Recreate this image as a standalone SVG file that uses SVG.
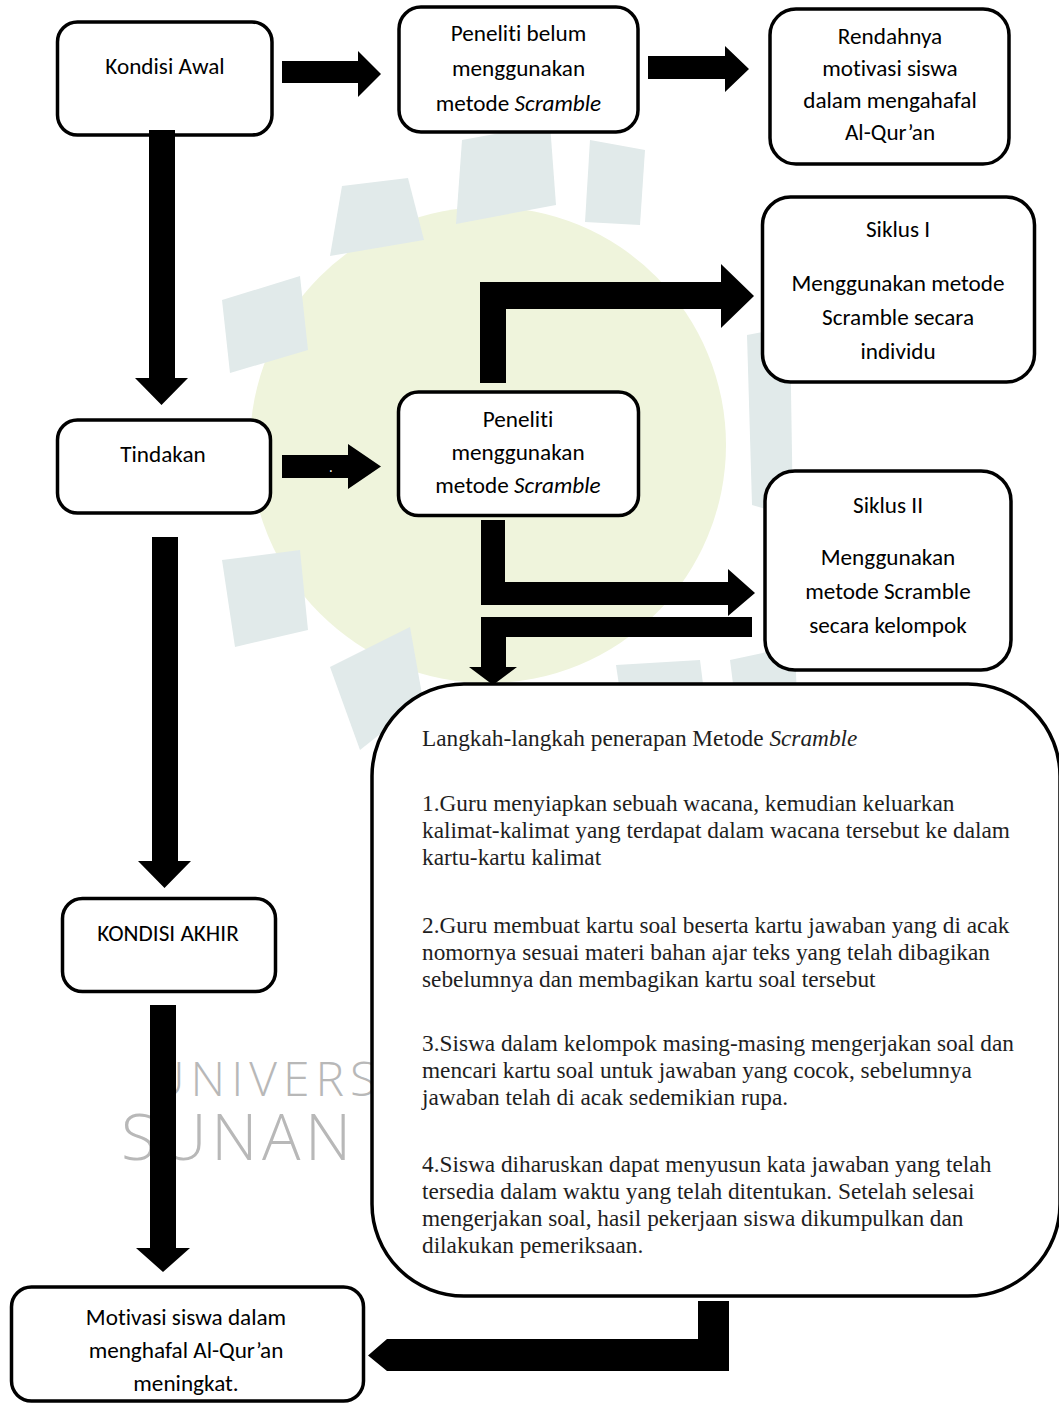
<svg xmlns="http://www.w3.org/2000/svg" width="1059" height="1408" viewBox="0 0 1059 1408">
<style>
.box{fill:#fff;stroke:#000;stroke-width:3.5}
.t{font-family:Carlito,'Open Sans',Lato,sans-serif;font-size:23.2px;fill:#000;text-anchor:middle;font-variant-ligatures:none;font-feature-settings:"liga" 0}
.s{font-family:'Liberation Serif','Times New Roman',serif;font-size:23.3px;fill:#1e1e1e}
.arr{fill:#000}
.wm{font-family:'Open Sans',sans-serif;font-weight:300;fill:#b8b8b8}
.lg{fill:#eff4dc}
.tl{fill:#e1eaea}
</style>
<rect width="1059" height="1408" fill="#fff"/>
<g id="watermark">
<circle class="lg" cx="488" cy="445" r="238"/>
<polygon class="tl" points="330,256 342,186 408,178 424,240"/>
<polygon class="tl" points="456,224 462,140 550,124 556,205"/>
<polygon class="tl" points="585,222 590,140 645,150 640,225"/>
<polygon class="tl" points="222,300 300,276 308,350 230,373"/>
<polygon class="tl" points="222,560 300,550 308,630 235,647"/>
<polygon class="tl" points="330,667 410,627 423,700 360,750"/>
<polygon class="tl" points="747,335 790,327 793,517 752,505"/>
<polygon class="tl" points="730,660 795,646 797,700 735,700"/>
<polygon class="tl" points="616,665 700,660 704,692 620,692"/>
<text class="wm" x="150" y="1096" font-size="48" letter-spacing="6">UNIVERS</text>
<text class="wm" x="121" y="1160" font-size="64" letter-spacing="4.6">SUNAN</text>
</g>
<g id="n-kondisi-awal"><rect class="box" x="57.5" y="22" width="214.5" height="113" rx="20"/><text class="t" x="165" y="74">Kondisi Awal</text></g>
<g id="n-peneliti-belum"><rect class="box" x="399" y="7" width="239" height="125" rx="22"/><text class="t" x="518.5" y="41">Peneliti belum</text><text class="t" x="518.5" y="76">menggunakan</text><text class="t" x="518.5" y="111">metode <tspan font-style="italic">Scramble</tspan></text></g>
<g id="n-rendahnya"><rect class="box" x="770" y="9" width="239" height="155" rx="26"/><text class="t" x="890" y="44">Rendahnya</text><text class="t" x="890" y="76">motivasi siswa</text><text class="t" x="890" y="108">dalam mengahafal</text><text class="t" x="890" y="140">Al-Qur’an</text></g>
<g id="n-tindakan"><rect class="box" x="57.5" y="420" width="213" height="93" rx="20"/><text class="t" x="163" y="462">Tindakan</text></g>
<g id="n-peneliti"><rect class="box" x="398.5" y="392" width="240" height="123.5" rx="20"/><text class="t" x="518" y="427">Peneliti</text><text class="t" x="518" y="460">menggunakan</text><text class="t" x="518" y="493">metode <tspan font-style="italic">Scramble</tspan></text></g>
<g id="n-siklus1"><rect class="box" x="762.5" y="197" width="272" height="185" rx="28"/><text class="t" x="898" y="237">Siklus I</text><text class="t" x="898" y="291">Menggunakan metode</text><text class="t" x="898" y="325">Scramble secara</text><text class="t" x="898" y="359">individu</text></g>
<g id="n-siklus2"><rect class="box" x="765" y="471" width="246" height="199" rx="30"/><text class="t" x="888" y="513">Siklus II</text><text class="t" x="888" y="565">Menggunakan</text><text class="t" x="888" y="599">metode Scramble</text><text class="t" x="888" y="633">secara kelompok</text></g>
<g id="n-kondisi-akhir"><rect class="box" x="62.5" y="898.5" width="213" height="93" rx="20"/><text class="t" x="168" y="941">KONDISI AKHIR</text></g>
<g id="n-langkah"><rect class="box" x="372" y="684" width="688" height="612" rx="92"/>
<text class="s" x="422" y="746">Langkah-langkah penerapan Metode <tspan font-style="italic">Scramble</tspan></text>
<text class="s" x="422" y="811">1.Guru menyiapkan sebuah wacana, kemudian keluarkan</text>
<text class="s" x="422" y="838">kalimat-kalimat yang terdapat dalam wacana tersebut ke dalam</text>
<text class="s" x="422" y="865">kartu-kartu kalimat</text>
<text class="s" x="422" y="933">2.Guru membuat kartu soal beserta kartu jawaban yang di acak</text>
<text class="s" x="422" y="960">nomornya sesuai materi bahan ajar teks yang telah dibagikan</text>
<text class="s" x="422" y="987">sebelumnya dan membagikan kartu soal tersebut</text>
<text class="s" x="422" y="1051">3.Siswa dalam kelompok masing-masing mengerjakan soal dan</text>
<text class="s" x="422" y="1078">mencari kartu soal untuk jawaban yang cocok, sebelumnya</text>
<text class="s" x="422" y="1105">jawaban telah di acak sedemikian rupa.</text>
<text class="s" x="422" y="1172">4.Siswa diharuskan dapat menyusun kata jawaban yang telah</text>
<text class="s" x="422" y="1199">tersedia dalam waktu yang telah ditentukan. Setelah selesai</text>
<text class="s" x="422" y="1226">mengerjakan soal, hasil pekerjaan siswa dikumpulkan dan</text>
<text class="s" x="422" y="1253">dilakukan pemeriksaan.</text>
</g>
<g id="n-motivasi"><rect class="box" x="11.5" y="1287" width="352" height="114" rx="20"/><text class="t" x="186" y="1325">Motivasi siswa dalam</text><text class="t" x="186" y="1358">menghafal Al-Qur’an</text><text class="t" x="186" y="1391">meningkat.</text></g>
<g id="connectors">
<polygon class="arr" points="282,61 358,61 358,51 381,74 358,97 358,83 282,83"/>
<polygon class="arr" points="648,56 725,56 725,46 749,69 725,92 725,79 648,79"/>
<polygon class="arr" points="149,130 175,130 175,378 188,378 161.5,405 135,378 149,378"/>
<polygon class="arr" points="282,455 348,455 348,444 381,466.5 348,489 348,478 282,478"/>
<text x="329" y="472" font-family="'Open Sans',sans-serif" font-size="14" fill="#fff">.</text>
<polygon class="arr" points="480,383 480,282 721,282 721,264 754,296 721,328 721,309 506,309 506,383"/>
<polygon class="arr" points="481,520 505,520 505,582 728,582 728,569 755,593 728,616 728,605 481,605"/>
<polygon class="arr" points="752,617 752,637 506,637 506,667 517,667 493,685 469,667 481,667 481,617"/>
<polygon class="arr" points="152,537 178,537 178,861 191,861 164.5,888 138,861 152,861"/>
<polygon class="arr" points="150,1005 176,1005 176,1248 190,1248 163,1272 136,1248 150,1248"/>
<polygon class="arr" points="698,1301 729,1301 729,1371 387,1371 368,1355.5 387,1339 698,1339"/>
</g>
</svg>
